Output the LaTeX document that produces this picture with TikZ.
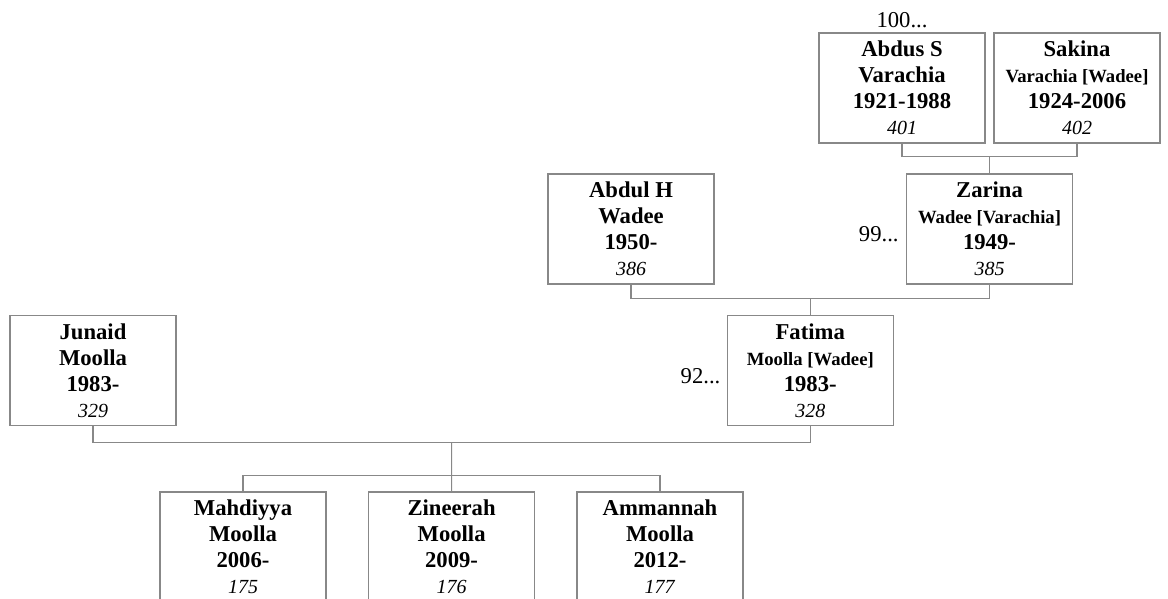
\documentclass[tikz,border=0pt]{standalone}
\usepackage{fontspec}
\setmainfont{Liberation Serif}
\usetikzlibrary{calc}

\definecolor{linegray}{RGB}{136,136,136}
\newcommand{\maiden}{\fontsize{14}{19.5}\selectfont}
\newcommand{\idsize}{\fontsize{15}{19.5}\selectfont}

\begin{document}
\begin{tikzpicture}[
    x=0.75pt, y=-0.75pt,
    person/.style={rectangle, draw=linegray, line width=0.9pt, fill=white, minimum width=124.5pt, minimum height=82.5pt, inner sep=0pt, align=center, font=\fontsize{17}{19.5}\selectfont},
    note/.style={inner sep=0pt, font=\fontsize{17}{20}\selectfont},
    link/.style={draw=linegray, line width=0.9pt}
]
\clip (0,0) rectangle (1168,599);

% grandparents (Varachia)
\node[person] (abdus) at (902,88) {
    \textbf{Abdus S}\\
    \textbf{Varachia}\\
    \textbf{1921-1988}\\
    {\idsize\textit{401}}
};
\node[person] (sakina) at (1077,88) {
    \textbf{Sakina}\\
    {\maiden\textbf{Varachia [Wadee]}}\\
    \textbf{1924-2006}\\
    {\idsize\textit{402}}
};

% parents' generation
\node[person] (abdul) at (631,229) {
    \textbf{Abdul H}\\
    \textbf{Wadee}\\
    \textbf{1950-}\\
    {\idsize\textit{386}}
};
\node[person] (zarina) at (989.5,229) {
    \textbf{Zarina}\\
    {\maiden\textbf{Wadee [Varachia]}}\\
    \textbf{1949-}\\
    {\idsize\textit{385}}
};

% couple
\node[person] (junaid) at (93,370.5) {
    \textbf{Junaid}\\
    \textbf{Moolla}\\
    \textbf{1983-}\\
    {\idsize\textit{329}}
};
\node[person] (fatima) at (810.25,370.5) {
    \textbf{Fatima}\\
    {\maiden\textbf{Moolla [Wadee]}}\\
    \textbf{1983-}\\
    {\idsize\textit{328}}
};

% children
\node[person] (mahdiyya) at (243,547) {
    \textbf{Mahdiyya}\\
    \textbf{Moolla}\\
    \textbf{2006-}\\
    {\idsize\textit{175}}
};
\node[person] (zineerah) at (451.6,547) {
    \textbf{Zineerah}\\
    \textbf{Moolla}\\
    \textbf{2009-}\\
    {\idsize\textit{176}}
};
\node[person] (ammannah) at (660,547) {
    \textbf{Ammannah}\\
    \textbf{Moolla}\\
    \textbf{2012-}\\
    {\idsize\textit{177}}
};

% more ancestors
\node[note, anchor=base] (more100) at ([yshift=3.75pt]abdus.north) {100...};
\node[note, anchor=base east] (more99) at ([xshift=-5.25pt,yshift=-9.75pt]zarina.west) {99...};
\node[note, anchor=base east] (more92) at ([xshift=-4.5pt,yshift=-9.75pt]fatima.west) {92...};

% marriage lines
\coordinate (wed1) at ($(abdus.south)!0.5!(sakina.south)+(0,13)$);
\coordinate (wed2) at ($(abdul.south)!0.5!(zarina.south)+(0,14)$);
\coordinate (wed3) at ($(junaid.south)!0.5!(fatima.south)+(0,16)$);

\draw[link] (abdus.south) |- (wed1) -| (sakina.south);
\draw[link] (wed1) -- (zarina);
\draw[link] (abdul.south) |- (wed2) -| (zarina.south);
\draw[link] (wed2) -- (fatima);
\draw[link] (junaid.south) |- (wed3) -| (fatima.south);
\draw[link] (wed3) -- (zineerah);
\draw[link] (mahdiyya.north) -- ++(0,-16) -| (ammannah.north);

\end{tikzpicture}
\end{document}
